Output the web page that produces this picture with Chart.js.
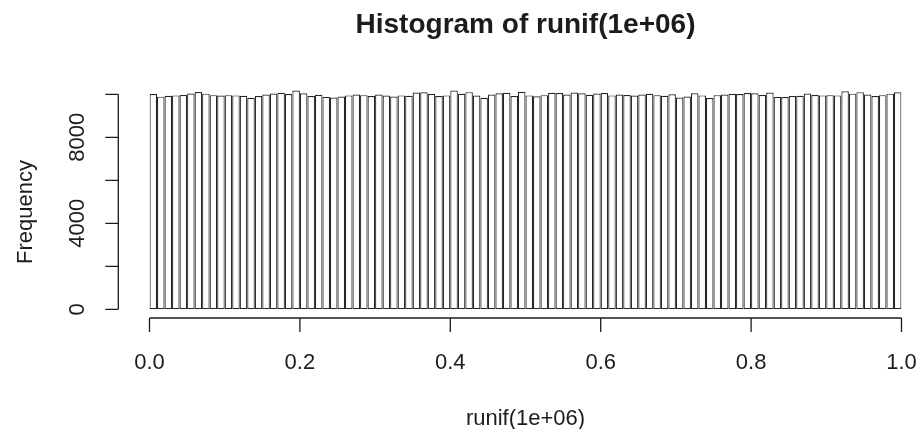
<!DOCTYPE html>
<html>
<head>
<meta charset="utf-8">
<script src="https://cdn.jsdelivr.net/npm/chart.js@4.4.1/dist/chart.umd.min.js"></script>
<style>
  html, body { margin: 0; padding: 0; background: #ffffff; }
  #wrap { width: 919px; height: 429px; position: relative; }
</style>
</head>
<body>
<div id="wrap"><canvas id="c"></canvas></div>
<script>
// ---- data ----
const titleText = "Histogram of runif(1e+06)";
const xLabelText = "runif(1e+06)";
const yLabelText = "Frequency";

// bin counts for breaks 0.00, 0.01, ..., 1.00 (100 bins)
const counts = [
  10010, 9890, 9930, 9950, 9970, 10040, 10110, 10030, 9960, 9940,
  9960, 9950, 9930, 9840, 9920, 9990, 10040, 10070, 10010, 10180,
  10050, 9920, 9980, 9880, 9850, 9900, 9950, 9990, 9960, 9920,
  9990, 9940, 9900, 9950, 9930, 10080, 10090, 10010, 9920, 9950,
  10180, 10020, 10100, 9940, 9840, 9990, 10050, 10070, 9920, 10120,
  9950, 9910, 9960, 10070, 10060, 9990, 10080, 10050, 9980, 10040,
  10060, 9950, 9990, 9970, 9940, 9990, 10020, 9960, 9930, 10000,
  9850, 9900, 10050, 9950, 9830, 9960, 9990, 10020, 10010, 10060,
  10050, 9970, 10080, 9880, 9870, 9920, 9930, 10040, 9970, 9950,
  9960, 9950, 10140, 10030, 10100, 9990, 9920, 9960, 10030, 10090
];
const binLabels = counts.map((_, i) => (i / 100).toFixed(2) + "-" + ((i + 1) / 100).toFixed(2));

const xTickValues = [0, 0.2, 0.4, 0.6, 0.8, 1.0];
const xTickLabels = ["0.0", "0.2", "0.4", "0.6", "0.8", "1.0"];
const yTickValues = [0, 2000, 4000, 6000, 8000, 10000];
const yTickLabels = ["0", "", "4000", "", "8000", ""];

// ---- drawing ----
const FONT = "'Liberation Sans', Arial, Helvetica, sans-serif";
const INK = "#1c1c1c";

const rAxesPlugin = {
  id: 'rAxes',
  afterDraw(chart) {
    const ctx = chart.ctx;
    const xs = chart.scales.xv;
    const ys = chart.scales.y;
    ctx.save();
    ctx.strokeStyle = INK;
    ctx.fillStyle = INK;
    ctx.lineWidth = 1.3;

    // x axis
    const xAxisY = 318;
    ctx.beginPath();
    ctx.moveTo(xs.getPixelForValue(xTickValues[0]), xAxisY);
    ctx.lineTo(xs.getPixelForValue(xTickValues[xTickValues.length - 1]), xAxisY);
    xTickValues.forEach(v => {
      const px = xs.getPixelForValue(v);
      ctx.moveTo(px, xAxisY);
      ctx.lineTo(px, xAxisY + 14);
    });
    ctx.stroke();
    ctx.font = "22px " + FONT;
    ctx.textAlign = "center";
    ctx.textBaseline = "alphabetic";
    xTickValues.forEach((v, i) => {
      ctx.fillText(xTickLabels[i], xs.getPixelForValue(v), 369);
    });

    // y axis
    const yAxisX = 118.3;
    ctx.beginPath();
    ctx.moveTo(yAxisX, ys.getPixelForValue(yTickValues[0]));
    ctx.lineTo(yAxisX, ys.getPixelForValue(yTickValues[yTickValues.length - 1]));
    yTickValues.forEach(v => {
      const py = ys.getPixelForValue(v);
      ctx.moveTo(yAxisX, py);
      ctx.lineTo(yAxisX - 13, py);
    });
    ctx.stroke();
    yTickValues.forEach((v, i) => {
      if (!yTickLabels[i]) return;
      const py = ys.getPixelForValue(v);
      ctx.save();
      ctx.translate(84, py);
      ctx.rotate(-Math.PI / 2);
      ctx.textAlign = "center";
      ctx.textBaseline = "alphabetic";
      ctx.fillText(yTickLabels[i], 0, 0);
      ctx.restore();
    });

    // axis titles
    ctx.textAlign = "center";
    ctx.fillText(xLabelText, (chart.chartArea.left + chart.chartArea.right) / 2, 425);
    ctx.save();
    ctx.translate(31.5, 212);
    ctx.rotate(-Math.PI / 2);
    ctx.fillText(yLabelText, 0, 0);
    ctx.restore();

    // main title
    ctx.font = "bold 28px " + FONT;
    ctx.fillText(titleText, (chart.chartArea.left + chart.chartArea.right) / 2, 33.3);
    ctx.restore();
  }
};

new Chart(document.getElementById('c'), {
  type: 'bar',
  data: {
    labels: binLabels,
    datasets: [{
      data: counts,
      backgroundColor: '#ffffff',
      borderColor: '#262626',
      borderWidth: 1.2,
      borderSkipped: false,
      inflateAmount: 0,
      barPercentage: 1.0,
      categoryPercentage: 1.0
    }]
  },
  options: {
    responsive: true,
    maintainAspectRatio: false,
    animation: false,
    layout: { padding: { left: 149.5, right: 17.5, top: 85.7, bottom: 119.7 } },
    plugins: { legend: { display: false }, tooltip: { enabled: false }, title: { display: false } },
    scales: {
      x: { type: 'category', display: false, offset: true },
      xv: { type: 'linear', axis: 'x', position: 'bottom', display: false, min: 0, max: 1, offset: false },
      y: { type: 'linear', display: false, min: 0, max: 10400, ticks: { stepSize: 2000 } }
    }
  },
  plugins: [rAxesPlugin]
});
</script>
</body>
</html>
